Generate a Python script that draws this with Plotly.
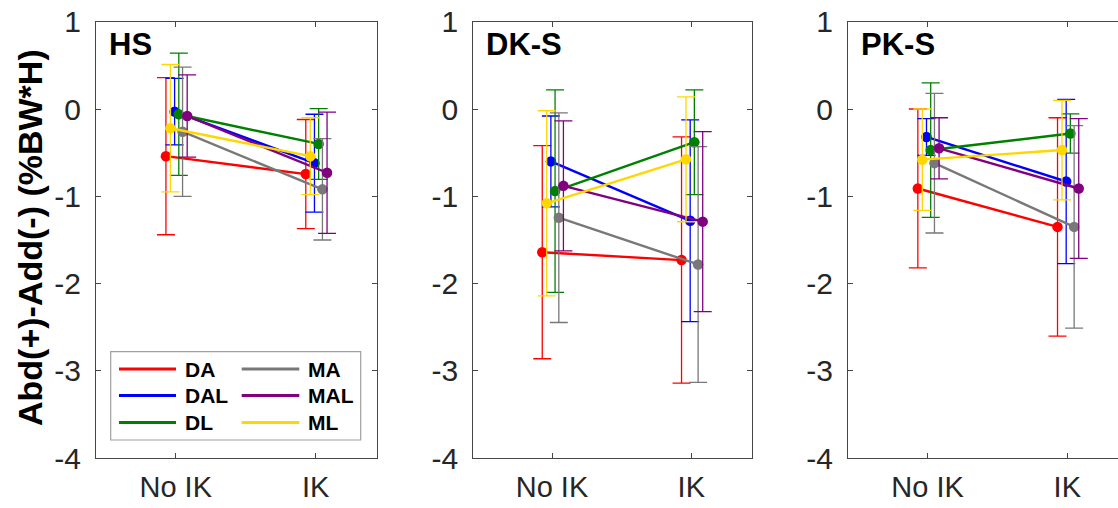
import plotly.graph_objects as go

# ---------------- data ----------------
conditions = ["No IK", "IK"]
series_names = ["DA", "DAL", "DL", "MA", "MAL", "ML"]
panel_titles = ["HS", "DK-S", "PK-S"]

# mean values [No IK, IK] per panel
HS_mean = {"DA": [-0.54, -0.745], "DAL": [-0.03, -0.62], "DL": [-0.06, -0.40],
           "MA": [-0.26, -0.92], "MAL": [-0.08, -0.73], "ML": [-0.22, -0.54]}
HS_sd = {"DA": [0.90, 0.625], "DAL": [0.38, 0.56], "DL": [0.70, 0.405],
         "MA": [0.74, 0.58], "MAL": [0.47, 0.695], "ML": [0.73, 0.44]}

DKS_mean = {"DA": [-1.64, -1.73], "DAL": [-0.60, -1.28], "DL": [-0.94, -0.38],
            "MA": [-1.245, -1.78], "MAL": [-0.88, -1.29], "ML": [-1.08, -0.576]}
DKS_sd = {"DA": [1.22, 1.41], "DAL": [0.52, 1.155], "DL": [1.16, 0.60],
          "MA": [1.20, 1.35], "MAL": [0.745, 1.03], "ML": [1.06, 0.715]}

PKS_mean = {"DA": [-0.91, -1.35], "DAL": [-0.32, -0.83], "DL": [-0.47, -0.28],
            "MA": [-0.62, -1.35], "MAL": [-0.45, -0.91], "ML": [-0.58, -0.47]}
PKS_sd = {"DA": [0.91, 1.25], "DAL": [0.21, 0.94], "DL": [0.77, 0.225],
          "MA": [0.80, 1.16], "MAL": [0.35, 0.80], "ML": [0.58, 0.57]}

y_ticks = [1, 0, -1, -2, -3, -4]
y_ticklabels = ["1", "0", "-1", "-2", "-3", "-4"]

# ---------------- styles ----------------
colors = {"DA": "rgb(255,0,0)", "DAL": "rgb(0,0,255)", "DL": "rgb(0,128,0)",
          "MA": "rgb(120,120,120)", "MAL": "rgb(128,0,128)", "ML": "rgb(255,215,0)"}
x_offset = {"DA": -0.070, "ML": -0.038, "DAL": -0.008, "DL": 0.022,
            "MA": 0.049, "MAL": 0.082}

W, H = 1118, 508
FONT = "Liberation Sans, Arial, Helvetica, sans-serif"
AX_COLOR = "rgb(70,70,70)"
TXT_COLOR = "rgb(38,38,38)"

# panel geometry in pixels
panel_left = [96.0, 473.3, 848.0]
panel_right = [376.7, 752.3, 1118.0]
plot_top, plot_bottom = 21.7, 458.3
xranges = [[0.43, 2.437], [0.435, 2.438], [0.43, 2.363]]

panels = [(HS_mean, HS_sd), (DKS_mean, DKS_sd), (PKS_mean, PKS_sd)]

fig = go.Figure()

for p, (means, sds) in enumerate(panels):
    xa = "x" if p == 0 else f"x{p+1}"
    ya = "y" if p == 0 else f"y{p+1}"
    for name in series_names:
        xs = [1 + x_offset[name], 2 + x_offset[name]]
        fig.add_trace(go.Scatter(
            x=xs, y=means[name], name=name, mode="lines+markers",
            xaxis=xa, yaxis=ya, showlegend=False,
            line=dict(color=colors[name], width=2.4),
            marker=dict(color=colors[name], size=10.5),
            error_y=dict(type="data", array=sds[name], visible=True,
                         color=colors[name], thickness=1.3, width=9),
        ))

layout = dict(
    template="none",
    width=W, height=H,
    margin=dict(l=0, r=0, t=0, b=0, autoexpand=False),
    paper_bgcolor="white", plot_bgcolor="white",
    font=dict(family=FONT, color=TXT_COLOR),
    showlegend=False,
)

ydom = [(H - plot_bottom) / H, (H - plot_top) / H]
for p in range(3):
    sx = "" if p == 0 else str(p + 1)
    layout[f"xaxis{sx}"] = dict(
        domain=[panel_left[p] / W, min(panel_right[p] / W, 1.0)],
        range=xranges[p], tickvals=[1, 2], ticktext=conditions,
        ticks="inside", ticklen=5, tickwidth=1.2, tickcolor=AX_COLOR,
        showline=True, linecolor=AX_COLOR, linewidth=1.3, mirror="ticks",
        showgrid=False, zeroline=False, automargin=False,
        tickfont=dict(size=29, color=TXT_COLOR, family=FONT),
        ticklabelstandoff=3,
        anchor="y" if p == 0 else f"y{p+1}",
    )
    layout[f"yaxis{sx}"] = dict(
        domain=ydom, range=[-4, 1], tickvals=y_ticks, ticktext=y_ticklabels,
        ticks="inside", ticklen=5, tickwidth=1.2, tickcolor=AX_COLOR,
        showline=True, linecolor=AX_COLOR, linewidth=1.3,
        mirror=("ticks" if p < 2 else False),
        showgrid=False, zeroline=False, automargin=False,
        tickfont=dict(size=30, color=TXT_COLOR, family=FONT),
        ticklabelstandoff=8,
        anchor="x" if p == 0 else f"x{p+1}",
    )

annotations = []
shapes = []
ph = plot_bottom - plot_top

# panel titles
for p in range(3):
    sx = "" if p == 0 else str(p + 1)
    annotations.append(dict(
        text=f"<b>{panel_titles[p]}</b>", xref=f"x{sx} domain", yref=f"y{sx} domain",
        x=11.0 / (min(panel_right[p], W) - panel_left[p]), y=(plot_bottom - 25) / ph,
        xanchor="left", yanchor="top", showarrow=False,
        font=dict(size=31, color="black", family=FONT),
    ))

# y-axis label
annotations.append(dict(
    text="<b>Abd(+)-Add(-) (%BW*H)</b>", xref="paper", yref="paper",
    x=30 / W, y=(H - 238) / H, textangle=-90, showarrow=False,
    xanchor="center", yanchor="middle",
    font=dict(size=34, color="black", family=FONT),
))

# manual two-column legend in the first panel
pw0 = panel_right[0] - panel_left[0]
def dx(px):
    return (px - panel_left[0]) / pw0
def dy(py):
    return (plot_bottom - py) / ph

shapes.append(dict(type="rect", xref="x domain", yref="y domain",
                   x0=dx(110.7), x1=dx(360.7), y0=dy(440.0), y1=dy(351.7),
                   line=dict(color="rgb(160,160,160)", width=1.2), fillcolor="white",
                   layer="above"))
row_y = [369.0, 395.5, 422.5]
col_line = [(119.0, 176.0), (241.7, 299.3)]
col_text = [183.0, 306.0]
for i, name in enumerate(series_names):
    c, r = divmod(i, 3)
    shapes.append(dict(type="line", xref="x domain", yref="y domain",
                       x0=dx(col_line[c][0]), x1=dx(col_line[c][1]),
                       y0=dy(row_y[r]), y1=dy(row_y[r]),
                       line=dict(color=colors[name], width=3), layer="above"))
    annotations.append(dict(
        text=f"<b>{name}</b>", xref="x domain", yref="y domain",
        x=dx(col_text[c]), y=dy(row_y[r]), xanchor="left", yanchor="middle",
        showarrow=False, font=dict(size=21, color="black", family=FONT),
    ))

layout["annotations"] = annotations
layout["shapes"] = shapes
fig.update_layout(**layout)

fig.write_html("out.html")
